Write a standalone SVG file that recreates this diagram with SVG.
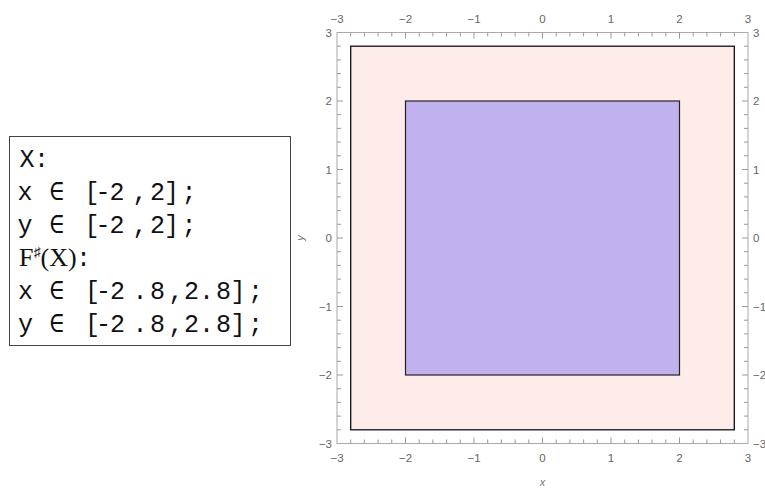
<svg xmlns="http://www.w3.org/2000/svg" xmlns:xlink="http://www.w3.org/1999/xlink" width="765" height="491" viewBox="0 0 765 491">
<style>
.mono{font-family:"Liberation Mono","DejaVu Sans Mono",monospace;font-size:25px;fill:#111}
.serif{font-family:"Liberation Serif","DejaVu Serif",serif;font-size:26px;fill:#111}
.tl{font-family:"Liberation Sans","DejaVu Sans",sans-serif;font-size:11.5px;fill:#666}
.al{font-family:"Liberation Sans","DejaVu Sans",sans-serif;font-size:11px;font-style:italic;fill:#777}
.tick{stroke:#999;stroke-width:1;fill:none}
</style>
<defs>
<g id="xticks">
<path class="tick" d="M350.7 32.5v4M364.4 32.5v4M378.1 32.5v4M391.8 32.5v4M419.2 32.5v4M432.9 32.5v4M446.6 32.5v4M460.3 32.5v4M487.7 32.5v4M501.4 32.5v4M515.1 32.5v4M528.8 32.5v4M556.2 32.5v4M569.9 32.5v4M583.6 32.5v4M597.3 32.5v4M624.7 32.5v4M638.4 32.5v4M652.1 32.5v4M665.8 32.5v4M693.2 32.5v4M706.9 32.5v4M720.6 32.5v4M734.3 32.5v4"/>
<path class="tick" d="M405.5 32.5v6M474 32.5v6M542.5 32.5v6M611 32.5v6M679.5 32.5v6"/>
</g>
</defs>
<g id="legend">
<rect x="9.5" y="136.5" width="281" height="209" fill="#fff" stroke="#444" stroke-width="1"/>
<text class="mono" x="19.5 34" y="167">X:</text>
<text class="mono" x="17.5 33 49 63 84.5 95.5 109.5 132.5 150 164 181.5" y="200">x ∈ [-2,2];</text>
<text class="mono" x="17.5 33 49 63 84.5 95.5 109.5 132.5 150 164 181.5" y="233">y ∈ [-2,2];</text>
<text class="serif" x="19" y="266">F<tspan font-size="14" dy="-9">♯</tspan><tspan dy="9">(X)</tspan><tspan class="mono" x="76">:</tspan></text>
<text class="mono" x="18 33 49 63 85 96 110 132.5 150 168.5 184 199 216 230.5 248" y="299">x ∈ [-2.8,2.8];</text>
<text class="mono" x="18 33 49 63 85 96 110 132.5 150 168.5 184 199 216 230.5 248" y="332">y ∈ [-2.8,2.8];</text>
</g>
<g id="plot">
<rect id="frame" x="337" y="32.5" width="411" height="411" fill="#fff" stroke="none"/>
<g id="outer-box"><rect x="350.7" y="46.2" width="383.6" height="383.6" fill="#fdecea" stroke="#111" stroke-width="1.3"/></g>
<g id="inner-box"><rect x="405.5" y="101" width="274" height="274" fill="#c1b2ee" stroke="#222" stroke-width="1.2"/></g>
<rect x="337" y="32.5" width="411" height="411" fill="none" stroke="#aaa" stroke-width="1"/>
<use xlink:href="#xticks"/>
<use xlink:href="#xticks" transform="translate(0,476) scale(1,-1)"/>
<use xlink:href="#xticks" transform="matrix(0,1,1,0,304.5,-304.5)"/>
<use xlink:href="#xticks" transform="matrix(0,1,-1,0,780.5,-304.5)"/>
<g class="tl" text-anchor="middle">
<text x="337" y="23">−3</text><text x="405.5" y="23">−2</text><text x="474" y="23">−1</text><text x="542.5" y="23">0</text><text x="611" y="23">1</text><text x="679.5" y="23">2</text><text x="748" y="23">3</text>
<text x="337" y="462">−3</text><text x="405.5" y="462">−2</text><text x="474" y="462">−1</text><text x="542.5" y="462">0</text><text x="611" y="462">1</text><text x="679.5" y="462">2</text><text x="748" y="462">3</text>
</g>
<g class="tl" text-anchor="end">
<text x="332" y="37">3</text><text x="332" y="105">2</text><text x="332" y="174">1</text><text x="332" y="242">0</text><text x="332" y="311">−1</text><text x="332" y="379">−2</text><text x="332" y="448">−3</text>
</g>
<g class="tl" text-anchor="start">
<text x="753" y="37">3</text><text x="753" y="105">2</text><text x="753" y="174">1</text><text x="753" y="242">0</text><text x="753" y="311">−1</text><text x="753" y="379">−2</text><text x="753" y="448">−3</text>
</g>
<text class="al" x="542.5" y="486" text-anchor="middle">x</text>
<text class="al" text-anchor="middle" transform="translate(304,238) rotate(-90)">y</text>
</g>
</svg>
